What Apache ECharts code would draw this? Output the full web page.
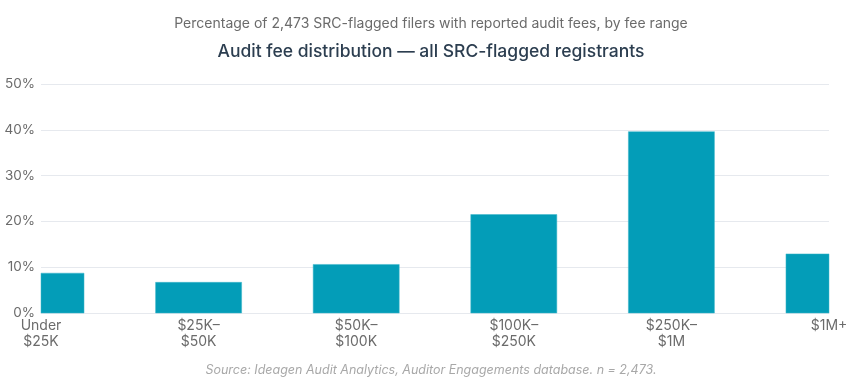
<!DOCTYPE html>
<html><head><meta charset="utf-8">
<script src="https://cdn.jsdelivr.net/npm/echarts@6/dist/echarts.min.js"></script>
<style>html,body{margin:0;padding:0;background:#fff}#c{width:862px;height:384px}</style>
</head><body><div id="c"></div>
<script>
const categories = ['Under\n$25K', '$25K–\n$50K', '$50K–\n$100K', '$100K–\n$250K', '$250K–\n$1M', '$1M+'];
const shares = [8.7, 6.7, 10.6, 21.5, 39.6, 12.9];
const yTicks = { min: 0, max: 50, interval: 10 };
const subtitleText = 'Percentage of 2,473 SRC-flagged filers with reported audit fees, by fee range';
const titleText = 'Audit fee distribution — all SRC-flagged registrants';
const sourceText = 'Source: Ideagen Audit Analytics, Auditor Engagements database. n = 2,473.';

const FONT = 'Inter, "Noto Sans", sans-serif';
const chart = echarts.init(document.getElementById('c'));
chart.setOption({
  animation: false,
  textStyle: { fontFamily: FONT },
  title: [
    { text: subtitleText, left: 'center', top: 12, textStyle: { fontSize: 14, fontWeight: 'normal', color: '#6b6b6b', fontFamily: FONT } },
    { text: titleText, left: 'center', top: 38, textStyle: { fontSize: 17.5, fontWeight: 500, color: '#2c3e50', fontFamily: FONT } },
    { text: sourceText, left: 'center', top: 359, textStyle: { fontSize: 12.5, fontStyle: 'italic', fontWeight: 'normal', color: '#a8a8a8', fontFamily: FONT } }
  ],
  grid: { left: 41, right: 33, top: 84, bottom: 71 },
  xAxis: {
    type: 'category', data: categories, boundaryGap: false,
    axisLine: { show: true, lineStyle: { color: '#e6e9ee' } },
    axisTick: { show: false },
    axisLabel: { color: '#6b6b6b', fontSize: 14, lineHeight: 16, margin: 5, interval: 0, fontFamily: FONT }
  },
  yAxis: {
    type: 'value', min: yTicks.min, max: yTicks.max, interval: yTicks.interval,
    axisLine: { show: false }, axisTick: { show: false },
    axisLabel: { formatter: '{value}%', color: '#6b6b6b', fontSize: 13.5, margin: 6, fontFamily: FONT },
    splitLine: { lineStyle: { color: '#e6e9ee' } }
  },
  series: [{
    type: 'custom',
    data: shares.map((v, i) => [i, v]),
    renderItem: function (params, api) {
      const top = api.coord([api.value(0), api.value(1)]);
      const base = api.coord([api.value(0), 0]);
      const w = api.size([1, 0])[0] * 0.546;
      const rect = echarts.graphic.clipRectByRect(
        { x: top[0] - w / 2, y: top[1], width: w, height: base[1] - top[1] },
        { x: params.coordSys.x, y: params.coordSys.y, width: params.coordSys.width, height: params.coordSys.height }
      );
      if (!rect) return null;
      return { type: 'rect', shape: rect, style: { fill: '#039db8', stroke: '#3fb6cb', lineWidth: 0.5 } };
    }
  }]
});
</script></body></html>
